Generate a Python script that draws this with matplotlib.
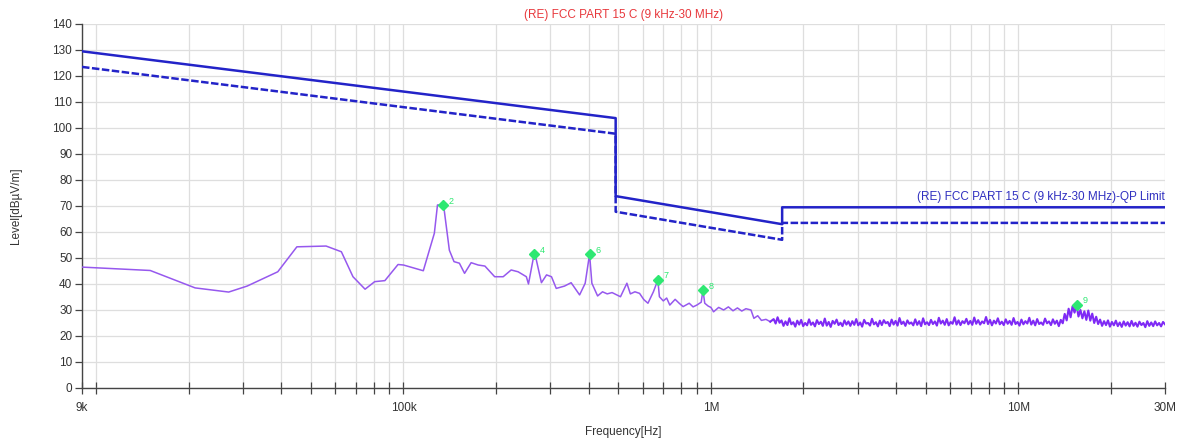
import numpy as np
import matplotlib
matplotlib.use("Agg")
import matplotlib.pyplot as plt
from matplotlib.ticker import FixedLocator, NullFormatter

plt.rcParams['font.family'] = ['Liberation Sans', 'DejaVu Sans']

# ---------------- data ----------------
title = "(RE) FCC PART 15 C (9 kHz-30 MHz)"
limit_label = "(RE) FCC PART 15 C (9 kHz-30 MHz)-QP Limit"

qp_freq_hz = [9e3, 490e3, 490e3, 1.705e6, 1.705e6, 30e6]
qp_level = [129.5, 103.8, 73.8, 63.0, 69.5, 69.5]
margin_level = [123.5, 97.8, 67.8, 57.0, 63.5, 63.5]

trace_freq_khz = [9, 15, 21, 27, 31, 39, 45, 56, 62.8, 68.5, 75, 80.6, 87, 96, 100,
                  116, 126, 129, 135, 141, 146, 152, 158, 166, 175, 184, 198, 211,
                  224, 236, 251, 255, 266, 269, 281, 292, 303, 314, 334, 351, 374,
                  390, 403, 410, 428, 444, 460, 477, 508, 533, 547, 566, 586, 605,
                  624, 650, 672, 680, 700, 718, 735, 765, 790, 812, 850, 875, 900,
                  930, 942, 955, 980, 1000, 1020, 1060, 1100, 1140, 1180, 1220,
                  1260, 1300, 1350, 1380, 1420, 1460, 1510, 1560]
trace_level = [46.5, 45.2, 38.5, 36.9, 39.2, 44.7, 54.3, 54.6, 52.4, 42.8, 38.0, 40.9,
               41.3, 47.5, 47.3, 45.1, 59.5, 70.4, 70.4, 53.0, 48.6, 48.0, 44.1, 48.2,
               47.3, 46.9, 42.8, 42.8, 45.4, 44.7, 42.8, 40.0, 51.5, 50.5, 40.5, 43.5,
               42.8, 38.3, 39.2, 40.5, 35.8, 40.3, 51.5, 40.3, 35.4, 37.0, 36.2, 36.7,
               35.1, 40.3, 36.2, 37.0, 36.4, 34.0, 32.6, 37.0, 41.5, 35.1, 33.5, 34.6,
               31.9, 34.1, 32.5, 31.3, 32.6, 31.2, 31.9, 33.0, 37.7, 32.6, 31.5, 31.0,
               29.3, 31.0, 30.0, 31.2, 29.7, 30.8, 29.6, 30.5, 30.0, 26.8, 27.8, 26.0,
               26.4, 25.5]

noise_start_hz = 1.6e6
noise_stop_hz = 30e6
noise_level = [
    26.5, 24.8, 27.2, 25.1, 26.0, 23.9, 25.6, 24.2, 26.8, 24.5, 25.3, 23.6, 25.9, 24.4, 26.2, 23.8, 25.0, 24.1, 26.4, 24.3,
    25.2, 23.7, 26.1, 24.6, 25.5, 23.9, 26.7, 24.0, 25.4, 23.5, 25.8, 24.7, 26.3, 24.2, 25.1, 23.8, 26.0, 24.4, 25.6, 23.9,
    25.7, 24.3, 26.5, 24.1, 25.2, 23.6, 26.2, 24.8, 25.0, 24.0, 26.6, 24.5, 25.3, 23.7, 25.9, 24.2, 26.1, 24.9, 25.4, 23.8,
    26.3, 24.4, 25.8, 24.0, 26.9, 24.6, 25.5, 23.9, 26.0, 24.7, 25.2, 24.1, 26.4, 24.3, 25.7, 23.8, 26.8, 24.5, 25.3, 24.2,
    26.2, 24.6, 25.6, 24.0, 27.0, 24.8, 25.9, 24.3, 26.5, 24.1, 25.4, 24.7, 27.2, 24.4, 26.0, 24.2, 25.7, 24.9, 26.6, 24.5,
    25.8, 24.3, 27.1, 24.7, 26.1, 24.4, 25.6, 24.9, 27.3, 24.6, 26.2, 24.1, 25.9, 24.8, 26.8, 24.5, 25.5, 24.2, 26.4, 24.7,
    25.8, 24.3, 26.9, 24.6, 25.4, 24.0, 26.3, 24.5, 25.7, 24.8, 27.0, 24.4, 25.9, 24.1, 26.5, 24.6, 25.2, 24.3, 26.7, 24.9,
    25.6, 24.2, 26.4, 24.7, 25.9, 23.8, 26.2, 24.9, 28.5, 26.0, 30.5, 27.2, 31.5, 29.0, 32.0, 27.5, 30.0, 26.8, 29.5, 26.2,
    29.8, 25.9, 28.6, 25.0, 27.4, 24.6, 26.3, 23.9, 25.7, 24.2, 26.0, 23.6, 25.4, 24.1, 25.9, 23.8, 25.2, 23.5, 25.6, 24.0,
    25.3, 23.7, 25.8, 23.9, 25.1, 23.6, 25.5, 24.2, 25.0, 23.4, 25.7, 23.9, 25.2, 23.8, 25.6, 24.1, 25.0, 23.7, 25.4, 24.5,
]

marker_ids = ["2", "4", "6", "7", "8", "9"]
marker_freq_hz = [134e3, 266e3, 403e3, 672e3, 942e3, 15.5e6]
marker_level = [70.4, 51.5, 51.5, 41.7, 37.7, 32.0]

x_major_ticks = [9e3, 1e5, 1e6, 1e7, 3e7]
x_major_labels = ["9k", "100k", "1M", "10M", "30M"]
y_ticks = list(range(0, 141, 10))

# ---------------- figure ----------------
fig = plt.figure(figsize=(11.85, 4.41), dpi=100)
ax = fig.add_axes([82 / 1185, 1 - 388 / 441, (1165 - 82) / 1185, (388 - 24) / 441])

ax.set_xscale('log')
ax.set_xlim(9e3, 30e6)
ax.set_ylim(0, 140)

minor_ticks = [m * 10 ** e for e in range(4, 8) for m in range(1, 10)
               if 9e3 < m * 10 ** e < 30e6 and m * 10 ** e not in x_major_ticks]
ax.xaxis.set_major_locator(FixedLocator(x_major_ticks))
ax.set_xticklabels(x_major_labels)
ax.xaxis.set_minor_locator(FixedLocator(minor_ticks))
ax.xaxis.set_minor_formatter(NullFormatter())
ax.set_yticks(y_ticks)

grid_c = '#dedede'
ax.grid(True, which='both', axis='x', color=grid_c, lw=0.9)
ax.grid(True, which='major', axis='y', color=grid_c, lw=0.9)
ax.set_axisbelow(True)

for s in ['top', 'right']:
    ax.spines[s].set_visible(False)
for s in ['left', 'bottom']:
    ax.spines[s].set_color('#444444')
    ax.spines[s].set_linewidth(1.0)

ax.tick_params(axis='x', which='both', direction='inout', length=8, width=0.9,
               color='#444444', labelsize=8.5, labelcolor='#333333', pad=6)
ax.tick_params(axis='y', which='major', direction='out', length=5, width=0.9,
               color='#444444', labelsize=8.5, labelcolor='#333333', pad=2)

# limit lines
lim_c = '#2323c8'
ax.plot(qp_freq_hz, qp_level, color=lim_c, lw=1.8, zorder=3)
ax.plot(qp_freq_hz, margin_level, color=lim_c, lw=1.8, ls=(0, (3, 1)), zorder=3)

# trace
trace_c = '#9658ee'
tf = np.array(trace_freq_khz) * 1e3
ax.plot(tf, trace_level, color=trace_c, lw=1.1, zorder=4)
nf = np.geomspace(noise_start_hz, noise_stop_hz, len(noise_level))
ax.plot(np.concatenate([tf[-1:], nf]), [trace_level[-1]] + noise_level,
        color='#7f2af5', lw=1.5, zorder=4)

# markers
mk_c = '#2ee872'
ax.plot(marker_freq_hz, marker_level, ls='none', marker='D', ms=5,
        color=mk_c, zorder=5)
for mid, f, lv in zip(marker_ids, marker_freq_hz, marker_level):
    ax.annotate(mid, (f, lv), xytext=(4, 1), textcoords='offset points',
                fontsize=6.5, color=mk_c, zorder=6)

# texts
ax.set_title(title, color='#e8383c', fontsize=8.5, pad=4)
ax.text(30e6, 71.3, limit_label, ha='right', va='bottom', color='#3030c0',
        fontsize=8.5)
ax.set_xlabel('Frequency[Hz]', fontsize=8.5, color='#333333', labelpad=9)
ax.set_ylabel('Level[dBµV/m]', fontsize=8.5, color='#333333', labelpad=22)

fig.savefig('out.png', dpi=100)
